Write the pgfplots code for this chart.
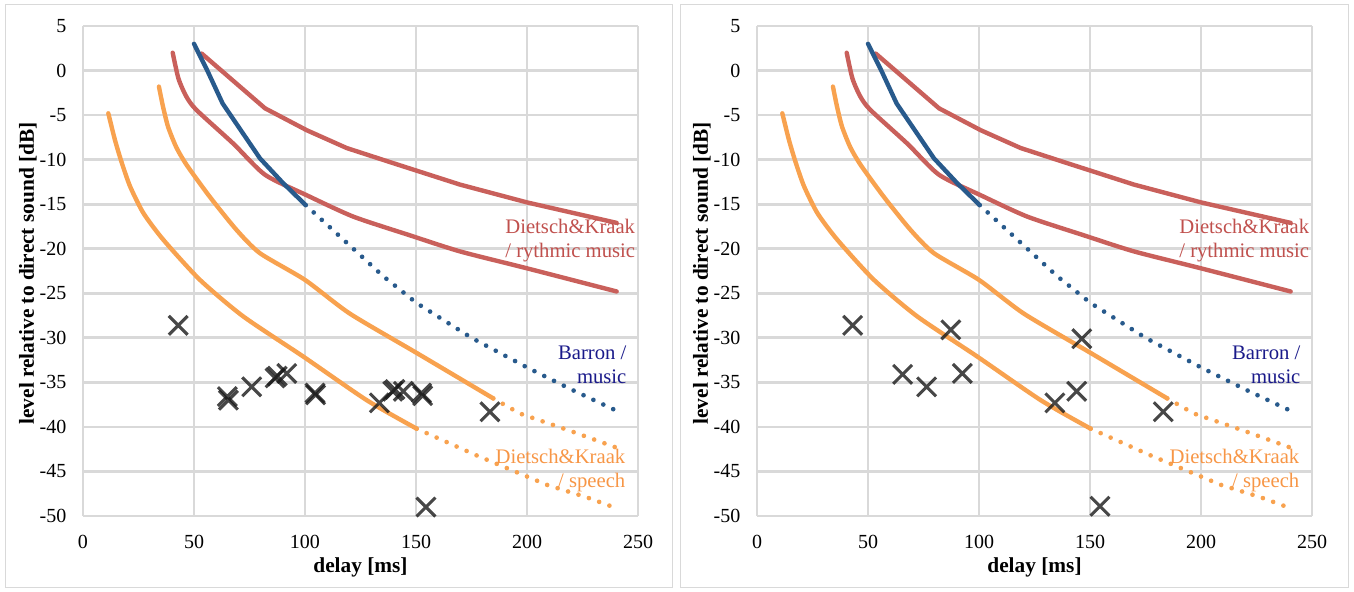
\documentclass[border=0pt]{standalone}
\usepackage{fontspec}
\setmainfont{Liberation Serif}
\usepackage{pgfplots}
\pgfplotsset{compat=1.18}
\definecolor{gridc}{HTML}{D9D9D9}
\definecolor{redl}{HTML}{C9605B}
\definecolor{bluel}{HTML}{285A8C}
\definecolor{orangel}{HTML}{F8A24F}
\definecolor{redt}{HTML}{C0504D}
\definecolor{bluet}{HTML}{1A1A8A}
\definecolor{oranget}{HTML}{F79646}
\tikzset{ann/.style={anchor=east, inner sep=0pt, align=right, font=\fontsize{15.5}{18.3}\selectfont}}
\pgfplotsset{
 panel/.style={
  scale only axis, width=416.25pt, height=367.5pt, anchor=south west,
  xmin=0,xmax=250,ymin=-50,ymax=5,
  xtick={0,50,...,250}, ytick={-50,-45,...,5},
  grid=major, major grid style={gridc, line width=2pt},
  axis line style={draw=none}, major tick length=0pt,
  tick label style={font=\fontsize{15}{18}\selectfont},
  /pgf/number format/assume math mode=true,
  xticklabel style={yshift=-10.5pt},
  yticklabel style={xshift=-9pt},
  xlabel={delay [ms]}, ylabel={level relative to direct sound [dB]},
  label style={font=\fontsize{16}{18}\selectfont\bfseries},
  xlabel style={at={(axis description cs:0.5,-0.104)},anchor=center},
  ylabel style={at={(axis description cs:-0.0991,0.495)},anchor=center},
 },
 solidl/.style={line width=3.3pt, line join=round, line cap=round},
 dotl/.style={line width=3.5pt, line cap=round, dash pattern=on 0pt off 8.2pt},
 xmk/.style={only marks, mark=x, mark size=10pt, black!90, opacity=0.8, mark options={line width=2.3pt}},
}
\newcommand\curves{%
 \addplot[solidl, redl] coordinates {(53.5,1.9) (82,-4.24) (100.8,-6.7) (118.8,-8.7) (139.8,-10.4) (169.8,-12.8) (200,-14.8) (240.4,-17.1)};
 \addplot[solidl, redl, smooth, tension=0.4] coordinates {(40.4,2.0) (43,-0.9) (46.5,-2.9) (51,-4.4) (67.7,-8.2) (82,-11.7) (100.8,-14.0) (121.8,-16.4) (147.3,-18.5) (169.8,-20.3) (200,-22.2) (240.4,-24.8)};
 \addplot[solidl, bluel] coordinates {(50,3.0) (56,0.0) (62.9,-3.7) (70,-6.3) (79.7,-9.85) (90,-12.6) (100.3,-15.1)};
 \addplot[dotl, bluel] coordinates {(100.3,-15.1) (120,-19.6) (135.3,-23.1) (150.3,-26.1) (175,-30.0) (200.6,-33.4) (220,-35.8) (239.6,-38.1)};
 \addplot[solidl, orangel, smooth, tension=0.4] coordinates {(11.4,-4.8) (14.4,-7.8) (17.4,-10.3) (21.2,-13.0) (27.2,-16.0) (36.2,-19.0) (52.7,-23.5) (72.2,-27.6) (99.2,-32.1) (127.8,-37.0) (150.3,-40.2)};
 \addplot[dotl, orangel] coordinates {(150.3,-40.2) (177.3,-43.2) (208.9,-46.5) (226.9,-47.9) (240,-49.1)};
 \addplot[solidl, orangel, smooth, tension=0.4] coordinates {(34.2,-1.8) (36,-4.0) (38.3,-6.3) (42,-8.6) (46.7,-10.6) (57.2,-14.2) (69.2,-17.9) (79.7,-20.5) (100,-23.5) (120.3,-27.3) (150.3,-31.7) (184.8,-36.8)};
 \addplot[dotl, orangel] coordinates {(184.8,-36.8) (196.8,-38.5) (220.1,-40.5) (240,-42.3)};
 \node[ann, text=redt] at (axis cs:248.8,-19.05) {Dietsch\&Kraak\\/ rythmic music};
 \node[ann, text=bluet] at (axis cs:244.9,-33.05) {Barron /\\music};
 \node[ann, text=oranget] at (axis cs:244.4,-44.9) {Dietsch\&Kraak\\/ speech};
}
\begin{document}
\begin{tikzpicture}[x=0.75pt,y=0.75pt]
\path[use as bounding box] (0,0) rectangle (1354,592);
\draw[gridc, line width=0.75pt] (5.5,4.5) rectangle (672.5,587.5);
\draw[gridc, line width=0.75pt] (680.5,4.5) rectangle (1348.5,587.5);
\begin{axis}[panel, at={(62.25pt,57pt)}]
 \curves
 \addplot[xmk] coordinates {(42.9,-28.6) (65.5,-37.0) (65.0,-36.6) (76.0,-35.5) (86.5,-34.5) (87.5,-34.3) (91.8,-34.0) (104.8,-36.4) (104.5,-36.2) (133.5,-37.3) (140.5,-35.8) (139.5,-36.0) (144.3,-36.0) (153.0,-36.5) (152.5,-36.2) (183.3,-38.3) (154.5,-49.0)};
\end{axis}
\begin{axis}[panel, at={(567.75pt,57pt)}]
 \curves
 \addplot[xmk] coordinates {(43.1,-28.6) (65.6,-34.1) (76.4,-35.5) (87.3,-29.1) (92.5,-34.0) (134.2,-37.3) (144.0,-36.0) (146.3,-30.1) (183.0,-38.3) (154.5,-48.9)};
\end{axis}
\end{tikzpicture}
\end{document}
